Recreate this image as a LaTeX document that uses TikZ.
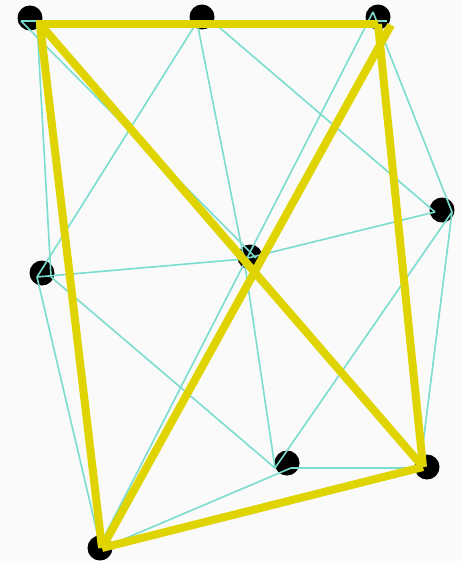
\documentclass[tikz,border=0pt]{standalone}
\definecolor{triline}{RGB}{122,221,206}
\definecolor{hlyellow}{RGB}{224,212,0}
\definecolor{bgcol}{RGB}{250,250,250}
\begin{document}
\begin{tikzpicture}[x=1pt,y=-1pt,
  dotnode/.style={circle,fill=black,inner sep=0pt,minimum size=25pt},
  triedge/.style={draw=triline,line width=1.6pt},
  hledge/.style={draw=hlyellow,line width=8pt,line cap=butt}]
\fill[bgcol] (0,0) rectangle (462,561);
\useasboundingbox (0,0) rectangle (462,561);
% dots
\node[dotnode] (d1) at (30,18) {};
\node[dotnode] (d2) at (202,17) {};
\node[dotnode] (d3) at (378,17) {};
\node[dotnode] (d4) at (442,210) {};
\node[dotnode] (d5) at (42,273) {};
\node[dotnode] (d6) at (250,257) {};
\node[dotnode] (d7) at (287,463) {};
\node[dotnode] (d8) at (427,467) {};
\node[dotnode] (d9) at (100,548) {};
% triangulation vertices
\coordinate (p1a) at (21,21);
\coordinate (p1b) at (37,22);
\coordinate (p2a) at (197,22);
\coordinate (p2b) at (213,22);
\coordinate (p3a) at (373,12);
\coordinate (p3b) at (387,21);
\coordinate (p4a) at (435,212);
\coordinate (p4b) at (452,212);
\coordinate (p5a) at (37,277);
\coordinate (p5b) at (51,277);
\coordinate (p6a) at (244,259);
\coordinate (p6b) at (256,258);
\coordinate (p7a) at (275,468);
\coordinate (p7b) at (291,468);
\coordinate (p8) at (420,468);
\coordinate (p9a) at (100,545);
\coordinate (p9b) at (110,545);
% cyan edges
\draw[triedge] (p1a) -- (p3b);
\draw[triedge] (p1b) -- (p5b);
\draw[triedge] (p1a) -- (p6b);
\draw[triedge] (p2a) -- (p5a);
\draw[triedge] (p2a) -- (p6a);
\draw[triedge] (p2b) -- (p4a);
\draw[triedge] (p3a) -- (p9a);
\draw[triedge] (p3a) -- (p4b);
\draw[triedge] (p4a) -- (p6a);
\draw[triedge] (p4b) -- (p7a);
\draw[triedge] (p4b) -- (p8);
\draw[triedge] (p5a) -- (p6a);
\draw[triedge] (p5b) -- (p7a);
\draw[triedge] (p5a) -- (p9a);
\draw[triedge] (p6a) -- (p7a);
\draw[triedge] (p7b) -- (p9b);
\draw[triedge] (p7b) -- (p8);
\draw[triedge] (p9b) -- (p8);
% highlighted edges
\coordinate (y1) at (40,24);
\coordinate (y3a) at (378,24);
\coordinate (y3b) at (391,25);
\coordinate (y8) at (423,467);
\coordinate (y9) at (102,548);
\draw[hledge] (36,24) -- (y3a);
\draw[hledge] (y1) -- (y8);
\draw[hledge] (y1) -- (y9);
\draw[hledge] (y3a) -- (y8);
\draw[hledge] (y3b) -- (y9);
\draw[hledge] (y9) -- (y8);
\end{tikzpicture}
\end{document}
